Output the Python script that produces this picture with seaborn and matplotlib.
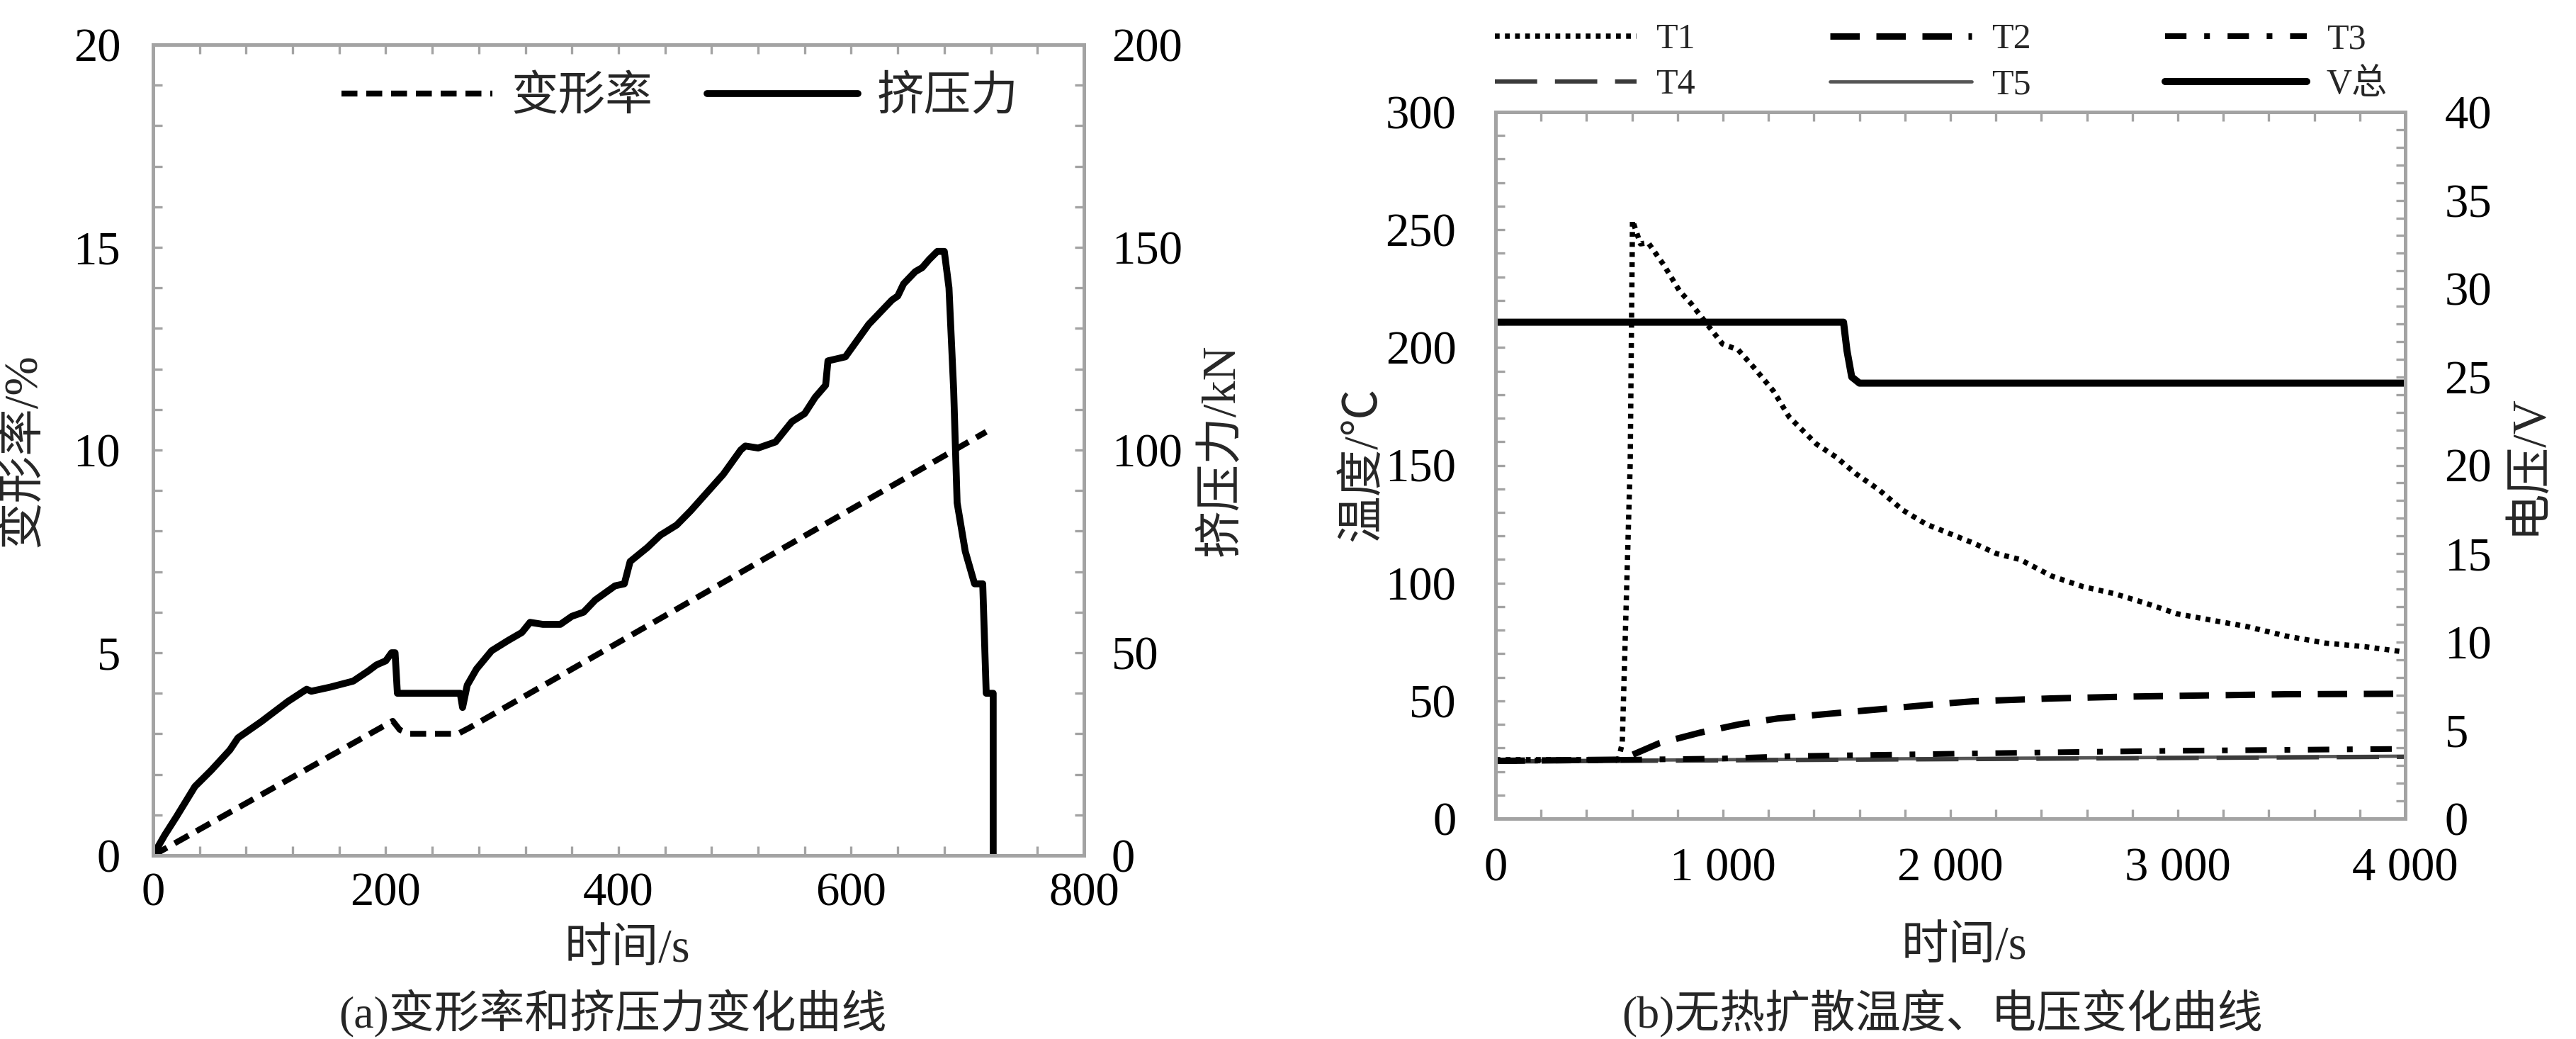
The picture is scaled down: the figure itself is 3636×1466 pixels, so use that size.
import matplotlib
matplotlib.use("Agg")
import matplotlib.pyplot as plt
import seaborn as sns
from matplotlib.ticker import MultipleLocator

# ---------------- (a) 变形率 / 挤压力 ----------------
t_def = [0, 200, 206, 212, 220, 262, 272, 716]
deform = [0, 3.22, 3.32, 3.1, 3.0, 3.0, 3.15, 10.45]

t_force = [0, 10, 20, 36, 50, 66, 73, 93, 116, 132, 136, 152, 172, 185, 192, 200,
           205, 208, 210, 264, 266, 270, 278, 291, 305, 317, 324, 335, 350, 360,
           370, 380, 397, 405, 410, 425, 436, 450, 462, 476, 490, 505, 509, 520,
           535, 549, 560, 569, 578, 580, 595, 605, 615, 625, 635, 640, 645, 655,
           661, 667, 674, 680, 684, 688, 691, 698, 706, 713, 716, 722, 722]
force = [0, 5, 9.5, 17, 21, 26, 29, 33, 38, 41, 40.5, 41.5, 43, 45.5, 47, 48,
         50, 50, 40, 40, 36.5, 42, 46, 50.5, 53, 55, 57.5, 57, 57, 59,
         60, 63, 66.5, 67, 72.5, 76, 79, 81.5, 85, 89.5, 94, 100, 101, 100.5,
         102, 107, 109, 113, 116, 122, 123, 127, 131, 134, 137, 138, 141, 144,
         145, 147, 149, 149, 140, 115, 87, 75, 67, 67, 40, 40, 0]

a_xticks = [0, 200, 400, 600, 800]

# ---------------- (b) 温度 / 电压 ----------------
t_T1 = [0, 540, 557, 592, 602, 637, 671, 740, 809, 861, 929, 998, 1067, 1136,
        1222, 1291, 1411, 1497, 1583, 1687, 1790, 1893, 1997, 2100, 2203, 2306,
        2444, 2582, 2720, 2857, 2995, 3133, 3305, 3477, 3649, 3821, 3976]
T1 = [25, 25, 32, 151, 254, 244, 244.5, 235, 224, 218.5, 210, 201.5, 199, 191.5,
      181.5, 170.5, 159, 153.5, 146.5, 139.5, 131, 125, 121, 117, 112.5, 110,
      103, 98.5, 95.5, 91.5, 87, 84.5, 81.5, 77.5, 74.5, 73, 71]

t_T2 = [0, 540, 600, 720, 900, 1070, 1240, 1410, 1580, 1760, 1930, 2100, 2440,
        2790, 3130, 3480, 4000]
T2 = [24.5, 25, 27, 32, 36.5, 40, 42.5, 44, 45.5, 47, 48.5, 49.8, 51, 51.8,
      52.3, 52.8, 53]

t_T3 = [0, 600, 1000, 1300, 2000, 2500, 3000, 3500, 4000]
T3 = [24.5, 25, 25.5, 26.5, 27.5, 28.2, 28.8, 29.2, 29.6]

t_T4 = [0, 1000, 2000, 3000, 4000]
T4 = [24.2, 24.7, 25.2, 25.7, 26.2]

t_T5 = [0, 1000, 2000, 3000, 4000]
T5 = [24.5, 25.0, 25.5, 26.0, 26.5]

t_V = [0, 1530, 1545, 1566, 1600, 4000]
V = [28.1, 28.1, 26.5, 25.0, 24.65, 24.65]

b_xticks = [0, 1000, 2000, 3000, 4000]
b_xticklabels = ["0", "1 000", "2 000", "3 000", "4 000"]

# ---------------- style ----------------
sns.set_style("white")
plt.rcParams["font.family"] = ["Liberation Serif", "Noto Sans CJK SC"]
plt.rcParams["axes.unicode_minus"] = False

W, H = 3637, 1466
FS = 48
GRAY = "#a3a3a3"

fig = plt.figure(figsize=(W / 100, H / 100), dpi=100)


def box(x0, y0, x1, y1):
    return [x0 / W, 1 - y1 / H, (x1 - x0) / W, (y1 - y0) / H]


def frame(ax):
    for s in ax.spines.values():
        s.set_visible(True)
        s.set_color(GRAY)
        s.set_linewidth(3.6)
    ax.tick_params(which="both", direction="in", length=9.5, width=2.4,
                   color=GRAY, labelsize=FS, labelcolor="black")


def line(ax, x, y, **kw):
    sns.lineplot(x=x, y=y, ax=ax, estimator=None, sort=False, **kw)
    return ax.lines[-1]


# ---------------- panel (a) ----------------
axA = fig.add_axes(box(216, 63, 1530, 1207))
axF = axA.twinx()

l_def = line(axA, t_def, deform, color="black", lw=6, linestyle=(0, (2.7, 1.5)))
l_force = line(axF, t_force, force, color="black", lw=7, solid_joinstyle="round")

axA.set_xlim(0, 800)
axA.set_ylim(0, 20)
axF.set_ylim(0, 200)
axA.set_xticks(a_xticks)
axA.xaxis.set_minor_locator(MultipleLocator(40))
axA.yaxis.set_major_locator(MultipleLocator(5))
axA.yaxis.set_minor_locator(MultipleLocator(1))
axF.yaxis.set_major_locator(MultipleLocator(50))
axF.yaxis.set_minor_locator(MultipleLocator(10))
for ax in (axA, axF):
    frame(ax)
axA.tick_params(axis="x", which="both", top=True, bottom=True, pad=17)
axA.tick_params(axis="y", which="both", left=True, right=False, pad=33)
axF.tick_params(axis="y", which="both", right=True, left=False, pad=28)
axA.set_xlabel("")
axA.set_ylabel("")
axF.set_ylabel("")

axF.legend([l_def, l_force], ["变形率", "挤压力"], loc="center",
           bbox_to_anchor=(0.566, 0.934), ncol=2, frameon=False, fontsize=FS,
           handlelength=3.2, handletextpad=0.4, columnspacing=1.15, borderpad=0)

fig.text(33 / W, 1 - 635 / H, "变形率/%", rotation=90, ha="center", va="center", fontsize=FS)
fig.text(1725 / W, 1 - 635 / H, "挤压力/kN", rotation=90, ha="center", va="center", fontsize=FS)
fig.text(885 / W, 1 - 1340 / H, "时间/s", ha="center", va="center", fontsize=FS)
fig.text(865 / W, 1 - 1430 / H, "(a)变形率和挤压力变化曲线", ha="center", va="center", fontsize=46)

# ---------------- panel (b) ----------------
axT = fig.add_axes(box(2111, 158, 3395, 1155))
axV = axT.twinx()

l_T5 = line(axT, t_T5, T5, color="#555555", lw=3.4)
l_T4 = line(axT, t_T4, T4, color="#3a3a3a", lw=4.3, linestyle=(0, (10, 4.2)))
l_T3 = line(axT, t_T3, T3, color="black", lw=5.8, linestyle=(0, (3.75, 3.1, 1.0, 3.1)))
l_T2 = line(axT, t_T2, T2, color="black", lw=6.5, linestyle=(0, (4.6, 2.6)))
l_T1 = line(axT, t_T1, T1, color="black", lw=5.4, linestyle=(0, (0.9, 1.0)))
l_V = line(axV, t_V, V, color="black", lw=7.2)

axT.set_xlim(0, 4000)
axT.set_ylim(0, 300)
axV.set_ylim(0, 40)
axT.set_xticks(b_xticks)
axT.set_xticklabels(b_xticklabels)
axT.xaxis.set_minor_locator(MultipleLocator(200))
axT.yaxis.set_major_locator(MultipleLocator(50))
axT.yaxis.set_minor_locator(MultipleLocator(10))
axV.yaxis.set_major_locator(MultipleLocator(5))
axV.yaxis.set_minor_locator(MultipleLocator(1))
for ax in (axT, axV):
    frame(ax)
axT.tick_params(axis="x", which="both", top=True, bottom=True, pad=29)
axT.tick_params(axis="y", which="both", left=True, right=False, pad=40)
axV.tick_params(axis="y", which="both", right=True, left=False, pad=40)
axT.set_xlabel("")
axT.set_ylabel("")
axV.set_ylabel("")

fig.legend([l_T1, l_T4, l_T2, l_T5, l_T3, l_V],
           ["T1", "T4", "T2", "T5", "T3", "V总"],
           loc="center left", bbox_to_anchor=(2110 / W, 1 - 88 / H), ncol=3,
           frameon=False, fontsize=36, handlelength=4.0, handletextpad=0.55,
           columnspacing=3.8, labelspacing=0.35, borderpad=0, borderaxespad=0)

fig.text(1925 / W, 1 - 655 / H, "温度/℃", rotation=90, ha="center", va="center", fontsize=FS)
fig.text(3568 / W, 1 - 655 / H, "电压/V", rotation=90, ha="center", va="center", fontsize=FS)
fig.text(2772 / W, 1 - 1337 / H, "时间/s", ha="center", va="center", fontsize=FS)
fig.text(2742 / W, 1 - 1430 / H, "(b)无热扩散温度、电压变化曲线", ha="center", va="center", fontsize=46)

fig.savefig("out.png", dpi=100)
